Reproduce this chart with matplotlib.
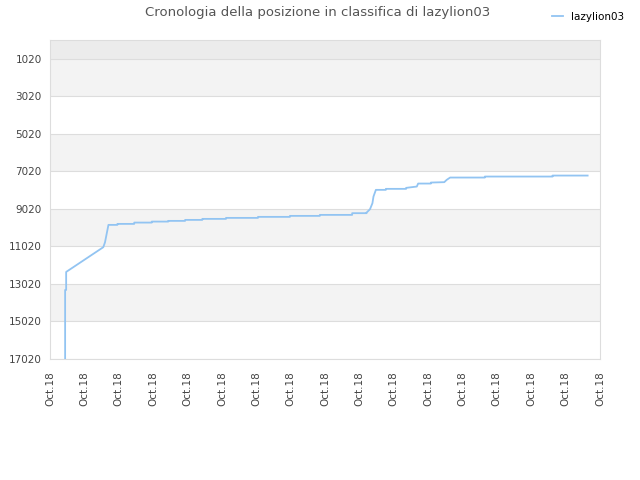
import matplotlib
matplotlib.use("Agg")
import matplotlib.pyplot as plt

# ranking history (x in tick-step units, y = position)
steps = [0.44, 0.44, 0.47, 0.47, 1.55, 1.60, 1.70, 1.96, 1.96, 2.45, 2.45, 2.96, 2.96,
         3.44, 3.44, 3.93, 3.93, 4.43, 4.43, 5.12, 5.12, 6.05, 6.05, 6.98, 6.98,
         7.85, 7.85, 8.79, 8.79, 9.21, 9.21, 9.31, 9.38, 9.41, 9.48, 9.77, 9.77,
         10.36, 10.36, 10.67, 10.71, 11.08, 11.08, 11.47, 11.54, 11.64, 12.65,
         12.65, 14.62, 14.62, 15.64]
positions = [17020, 13340, 13340, 12380, 11062, 10800, 9873, 9873, 9820, 9820, 9750,
             9750, 9697, 9697, 9660, 9660, 9607, 9607, 9553, 9553, 9500, 9500, 9446,
             9446, 9393, 9393, 9340, 9340, 9249, 9249, 9217, 9035, 8716, 8364, 8006,
             8006, 7953, 7953, 7900, 7830, 7670, 7670, 7617, 7596, 7473, 7350, 7350,
             7297, 7297, 7244, 7244]
y_ticks = [1020, 3020, 5020, 7020, 9020, 11020, 13020, 15020, 17020]
x_labels = ["Oct.18"] * 17

fig = plt.figure(figsize=(6.4, 4.8), dpi=100)
ax = fig.add_axes([50 / 640, 1 - 359 / 480, 550 / 640, 319 / 480])

# alternating background bands
ax.axhspan(20, y_ticks[0], color="#ececec", lw=0, zorder=0)
for i in range(len(y_ticks) - 1):
    col = "#f3f3f3" if i % 2 == 0 else "#ffffff"
    ax.axhspan(y_ticks[i], y_ticks[i + 1], color=col, lw=0, zorder=0)
for t in y_ticks:
    ax.axhline(t, color="#dddddd", lw=0.8, zorder=1)

ax.plot(steps, positions, color="#92c4f2", lw=1.3, zorder=3, label="lazylion03")

ax.set_ylim(17020, 20)
ax.set_xlim(0, 16)
ax.set_yticks(y_ticks)
ax.set_xticks(range(17))
ax.set_xticklabels(x_labels, rotation=90)
ax.tick_params(length=0, labelsize=7.5, colors="#444444", pad=6)
ax.tick_params(axis="x", pad=9)
for s in ax.spines.values():
    s.set_color("#dddddd")

fig.suptitle("Cronologia della posizione in classifica di lazylion03",
             x=0.497, y=0.988, fontsize=9.5, color="#555555")
fig.legend(loc="upper right", bbox_to_anchor=(0.99, 0.995), frameon=False,
           fontsize=7.5, handlelength=1.0, handletextpad=0.8)

fig.savefig("out.png", dpi=100)
